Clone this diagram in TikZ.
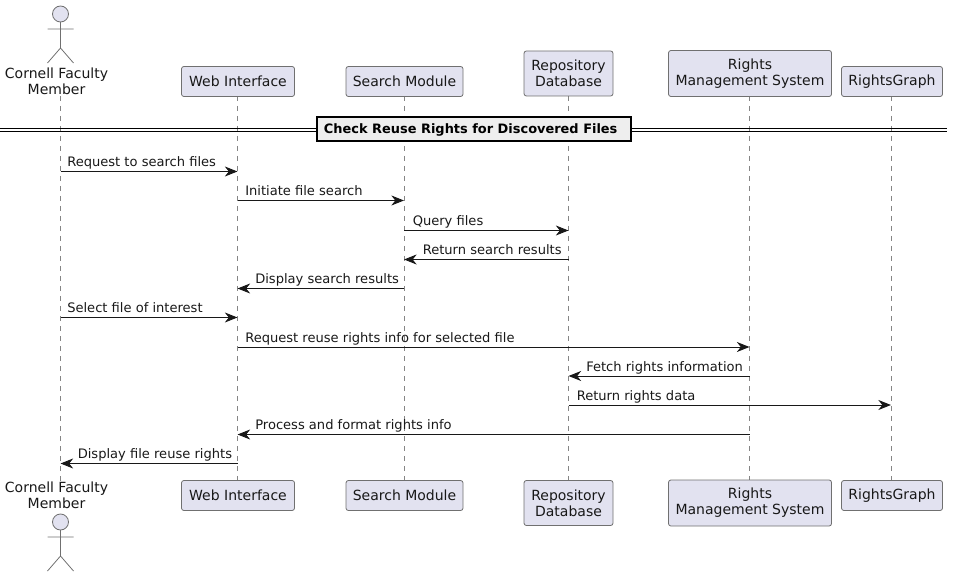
\documentclass[tikz,border=0pt]{standalone}
\usepackage{fontspec}
\setmainfont{DejaVu Sans}
\usetikzlibrary{arrows.meta}
\definecolor{partfill}{HTML}{E2E2F0}
\definecolor{partline}{HTML}{707070}
\definecolor{lifeline}{HTML}{858585}
\definecolor{ink}{HTML}{181818}
\definecolor{divfill}{HTML}{EEEEEE}
\tikzset{
  x=0.75pt,y=-0.75pt,
  part/.style={draw=partline,fill=partfill,rounded corners=1.8pt,line width=0.6pt,inner sep=0pt,font=\fontsize{10.5}{12}\selectfont,text=ink,align=center},
  life/.style={draw=lifeline,line width=0.5pt,dash pattern=on 3.75pt off 3.75pt},
  actorline/.style={draw=partline,line width=0.6pt},
  msg/.style={draw=ink,line width=0.75pt,-{Stealth[length=9.5pt,width=7.5pt,inset=3pt]}},
  lab/.style={inner sep=0pt,font=\fontsize{9.8}{11.4}\selectfont,text=ink,anchor=base west},
  actlabel/.style={inner sep=0pt,font=\fontsize{10.5}{12}\selectfont,text=ink,align=center}
}
\newcommand{\partbox}[6]{\node[part,minimum width=#4*0.75pt,minimum height=#5*0.75pt] (#1) at (#2,#3) {#6};}
\newcommand{\stick}[2]{%
  \draw[actorline,fill=partfill] (#1,#2) circle[radius=6pt];
  \draw[actorline] (#1,#2+8) -- ++(0,26) (#1-13,#2+15) -- (#1+13,#2+15)
    (#1-13,#2+49) -- (#1,#2+34) -- (#1+13,#2+49);}
\begin{document}
\begin{tikzpicture}
\useasboundingbox (0,0) rectangle (953,577);
% lifeline end points
\foreach \n/\x in {a/60.5,w/237.5,s/404,r/568.5,m/749.5,g/891}{
  \coordinate (\n t) at (\x,96);
  \coordinate (\n b) at (\x,481);
}
\draw[life] (at) -- (ab);
\draw[life] (wt) -- (wb);
\draw[life] (st) -- (sb);
\draw[life] (rt) -- (rb);
\draw[life] (mt) -- (mb);
\draw[life] (gt) -- (gb);
% participants, top
\node[actlabel,fill=white] (actorT) at (56.5,81) {Cornell Faculty\\Member};
\stick{60.5}{14}
\partbox{webT}{238}{81.5}{113}{30}{Web Interface}
\partbox{seaT}{404.5}{81.5}{117}{30}{Search Module}
\partbox{repT}{568.5}{73.5}{89}{45}{Repository\\Database}
\partbox{rmsT}{750}{73.5}{163}{46}{Rights\\Management System}
\partbox{graT}{892}{81.5}{101}{30}{RightsGraph}
% participants, bottom
\node[actlabel,fill=white] (actorB) at (56.5,495.5) {Cornell Faculty\\Member};
\stick{60.5}{522}
\partbox{webB}{238}{495.5}{113}{30}{Web Interface}
\partbox{seaB}{404.5}{495.5}{117}{30}{Search Module}
\partbox{repB}{568.5}{503}{89}{45}{Repository\\Database}
\partbox{rmsB}{750}{503}{163}{46}{Rights\\Management System}
\partbox{graB}{892}{495.5}{101}{30}{RightsGraph}
% divider
\coordinate (dl) at (0,128.3);
\coordinate (dr) at (947,128.3);
\coordinate (dl2) at (0,131.5);
\coordinate (dr2) at (947,131.5);
\draw[black,line width=0.75pt] (dl) -- (dr) (dl2) -- (dr2);
\node[draw=black,fill=divfill,line width=1.5pt,minimum width=236pt,minimum height=17.5pt,inner sep=0pt] (div) at (474,129) {};
\node[inner sep=0pt,anchor=base,font=\bfseries\fontsize{9.7}{12}\selectfont,text=black] (divtext) at (470.7,134) {Check Reuse Rights for Discovered Files};
% messages
\foreach \n/\from/\to/\y/\ly/\lx/\t in {
 m1/a/w/171.5/167/67/Request to search files,
 m2/w/s/200.5/195.5/245/Initiate file search,
 m3/s/r/230.5/225.5/412.5/Query files,
 m4/r/s/259.5/254.5/422.5/Return search results,
 m5/s/w/288.5/283.5/255/Display search results,
 m6/a/w/317.5/312.5/67/Select file of interest,
 m7/w/m/347/342/245/Request reuse rights info for selected file,
 m8/m/r/376/371/586/Fetch rights information,
 m9/r/g/405/400/576.5/Return rights data,
 m10/m/w/434.5/429.5/255/Process and format rights info,
 m11/w/a/463.5/458.5/77.5/Display file reuse rights}{
  \coordinate (p) at (\from t|-0,\y);
  \coordinate (q) at (\to t|-0,\y);
  \draw[msg] (p) -- (q);
  \node[lab] (\n) at (\lx,\ly) {\t};
}
\end{tikzpicture}
\end{document}
